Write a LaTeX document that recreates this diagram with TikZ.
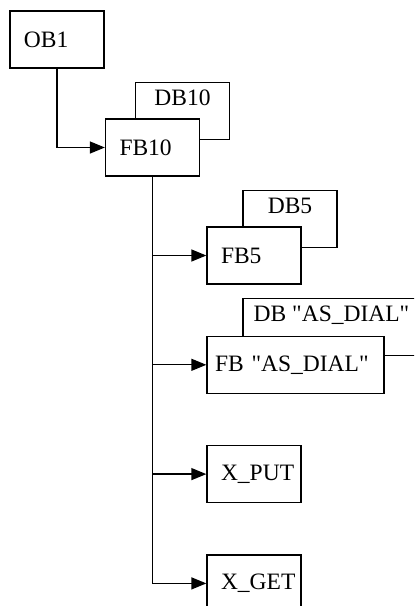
\documentclass[tikz,border=0pt]{standalone}
\usepackage{fontspec}
\setmainfont{Liberation Serif}
\usetikzlibrary{positioning,arrows.meta}
\begin{document}
\begin{tikzpicture}[
	x=0.5pt,y=-0.5pt,
	node distance=25.5pt,
	box/.style={
		draw,
		fill=white,
		line width=0.65pt,
		inner sep=0pt,
		font=\fontsize{11.75}{14}\selectfont,
		minimum width=47pt,
		minimum height=28.5pt
	},
	blk/.style={box,text width=33pt,align=left},
	wideblk/.style={box,minimum width=88.5pt,text width=80.5pt,align=left},
	dbbox/.style={box,label={[font=\fontsize{11.75}{14}\selectfont,anchor=north,inner sep=0pt,yshift=-4pt]north:#1}},
	widedb/.style={dbbox=#1,minimum width=88.5pt},
	arrow/.style={-{Triangle[length=7.5pt,width=6pt]},line width=0.65pt}
	]
	
	\useasboundingbox (0,0) rectangle (414,606);
	\clip (0,0) rectangle (414,606);
	
	\node[blk] (ob1) at (57,39.5) {OB1};
	
	\node[dbbox={DB10}] (db10) at (182.5,111) {};
	\node[blk] (fb10) at (152.5,147.5) {FB10};
	
	\node[dbbox={DB5}] (db5) at (290,219) {};
	\node[blk] (fb5) at (254,255.5) {FB5};
	
	\node[widedb={DB \textquotedbl AS\_DIAL\textquotedbl}] (dbas) at (331.5,327) {};
	\node[wideblk,below=25.5pt of fb5.south west,anchor=north west] (fbas) {FB \textquotedbl AS\_DIAL\textquotedbl};
	
	\node[blk,below=25.5pt of fbas.south west,anchor=north west] (xput) {X\_PUT};
	\node[blk,below=of xput] (xget) {X\_GET};
	
	\draw[arrow] (ob1.south) |- (fb10.west);
	
	\draw[arrow] (fb10.south) |- (fb5.west);
	\draw[arrow] (fb10.south) |- (fbas.west);
	\draw[arrow] (fb10.south) |- (xput.west);
	\draw[arrow] (fb10.south) |- (xget.west);
	
\end{tikzpicture}
\end{document}
